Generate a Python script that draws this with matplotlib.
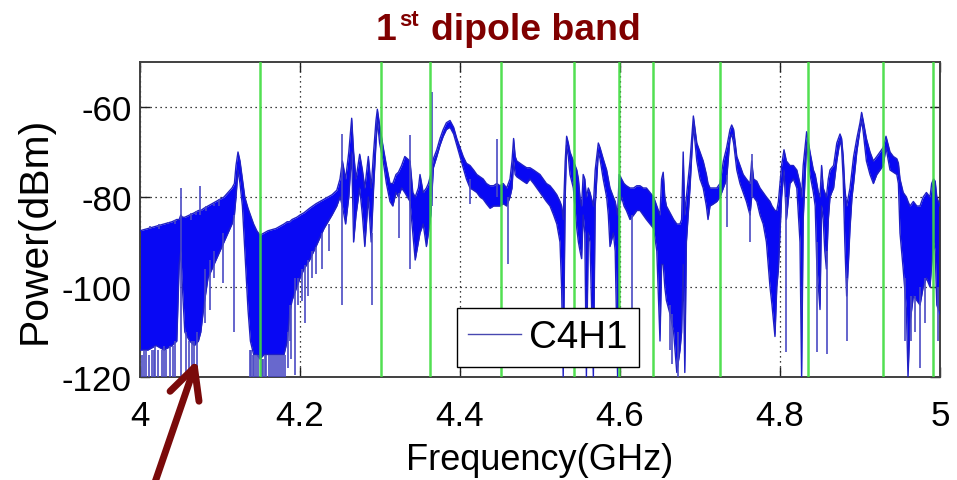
import matplotlib
matplotlib.use("Agg")
import matplotlib.pyplot as plt
from matplotlib.lines import Line2D
from matplotlib import font_manager as fm

# ---------------- data ----------------
freq = [4.000, 4.010, 4.020, 4.030, 4.040, 4.046, 4.049, 4.051, 4.053, 4.056,
        4.062, 4.068, 4.073, 4.076, 4.080, 4.085, 4.090, 4.095, 4.100, 4.105,
        4.110, 4.115, 4.118, 4.120, 4.1225, 4.125, 4.128, 4.131, 4.135, 4.138,
        4.142, 4.146, 4.150, 4.155, 4.160, 4.170, 4.180, 4.184, 4.187, 4.190,
        4.196, 4.200, 4.205, 4.212, 4.220, 4.225, 4.230, 4.240, 4.246, 4.250,
        4.253, 4.257, 4.261, 4.2646, 4.267, 4.270, 4.2746, 4.278, 4.281, 4.2854,
        4.289, 4.292, 4.295, 4.2967, 4.2995, 4.304, 4.308, 4.3125, 4.316, 4.320,
        4.323, 4.327, 4.331, 4.3375, 4.341, 4.344, 4.348, 4.350, 4.354, 4.358,
        4.3605, 4.3635, 4.3667, 4.371, 4.375, 4.379, 4.383, 4.3875, 4.392, 4.396,
        4.400, 4.404, 4.408, 4.4125, 4.417, 4.421, 4.425, 4.429, 4.433, 4.4375,
        4.442, 4.446, 4.450, 4.454, 4.4583, 4.4625, 4.465, 4.467, 4.469, 4.471,
        4.475, 4.479, 4.4833, 4.4875, 4.492, 4.496, 4.500, 4.504, 4.508, 4.5125,
        4.517, 4.521, 4.525, 4.527, 4.529, 4.5315, 4.5333, 4.5354, 4.5375, 4.5417,
        4.546, 4.548, 4.550, 4.552, 4.554, 4.556, 4.558, 4.5604, 4.5625, 4.5667,
        4.569, 4.5729, 4.575, 4.579, 4.5833, 4.5854, 4.5875, 4.5917, 4.594, 4.597,
        4.599, 4.602, 4.605, 4.608, 4.6125, 4.617, 4.621, 4.625, 4.629, 4.633,
        4.6375, 4.642, 4.646, 4.650, 4.652, 4.654, 4.656, 4.658, 4.6625, 4.667,
        4.671, 4.675, 4.677, 4.679, 4.681, 4.683, 4.6875, 4.6917, 4.696, 4.700,
        4.704, 4.708, 4.710, 4.7125, 4.717, 4.721, 4.725, 4.7292, 4.7333, 4.7375,
        4.7396, 4.742, 4.746, 4.750, 4.754, 4.758, 4.7625, 4.7646, 4.767, 4.771,
        4.775, 4.779, 4.783, 4.7875, 4.790, 4.7937, 4.796, 4.798, 4.802, 4.805,
        4.808, 4.8125, 4.8167, 4.821, 4.825, 4.827, 4.829, 4.8333, 4.8375, 4.8417,
        4.844, 4.846, 4.848, 4.850, 4.852, 4.854, 4.856, 4.858, 4.8604, 4.8625,
        4.8646, 4.867, 4.871, 4.875, 4.877, 4.879, 4.881, 4.8833, 4.8854, 4.8875,
        4.890, 4.892, 4.896, 4.900, 4.902, 4.904, 4.908, 4.9125, 4.9167, 4.921,
        4.925, 4.929, 4.9325, 4.9375, 4.9417, 4.946, 4.948, 4.950, 4.954, 4.958,
        4.960, 4.9625, 4.9667, 4.971, 4.975, 4.979, 4.983, 4.9875, 4.9896, 4.992,
        4.994, 4.996, 5.000]

power_upper = [-87.5, -87, -86.5, -86, -85.5, -85, -85, -84, -84.5, -84.5,
        -84, -83.5, -83, -83, -82.5, -82, -81.5, -81, -80.5, -80,
        -79, -78, -77, -73, -70, -72, -76, -80, -82.5, -84,
        -86, -87.5, -88.5, -88, -87.5, -87, -86, -85.5, -85.5, -85,
        -84.5, -84, -83.5, -82.5, -81.5, -81, -80.5, -79.5, -78.5, -76,
        -72, -76, -70, -62.5, -70, -76, -70.5, -74, -78, -71,
        -78, -70, -63, -60.5, -64, -69, -73, -77, -77, -75,
        -74.5, -73, -71, -72, -79, -80, -78, -75, -79, -78,
        -77, -75, -71.5, -69.5, -67, -65, -63.5, -63, -64.5, -67,
        -69, -71, -72.5, -73, -74, -75, -75.5, -76, -77, -77.5,
        -77.5, -77, -77.5, -77, -78, -76, -72, -67, -71, -72,
        -72.5, -73, -73.5, -73.5, -74, -74.5, -75, -76, -77, -77.5,
        -78.5, -79.5, -81, -82, -85, -72, -66.5, -68, -70, -72,
        -74, -76, -80, -82, -75, -76, -80, -78, -79, -82,
        -74, -68, -69, -71.5, -74, -76, -78, -80, -81, -84,
        -75, -76, -77, -77.5, -78, -78, -77.5, -77.5, -78, -78,
        -79, -80, -82, -84, -76, -74.5, -80, -82, -83.5, -85,
        -86, -86, -85, -70, -84, -80, -72, -62, -68, -70,
        -72, -75, -77, -78, -78, -78, -77, -72, -69, -65,
        -64, -65, -71, -73, -75, -76, -77, -72, -76, -76.5,
        -78, -79, -80, -81, -82, -83, -83, -81, -73, -69.5,
        -72, -73, -73, -74, -77, -80, -73, -65.5, -70, -74,
        -75, -77, -79, -80, -73, -78, -79, -80, -76, -74,
        -73.5, -73, -68, -66, -67, -71, -78, -82, -80, -78,
        -74, -71, -67, -63.5, -61.2, -63, -67, -70, -72, -71,
        -70, -69, -66.5, -70, -71, -71.5, -72.5, -76, -79, -80,
        -81, -82, -81, -82, -82, -80, -79, -80, -77, -76,
        -76.5, -80, -82]

power_lower = [-114, -114, -113, -114, -113, -112, -95, -92, -100, -110,
        -112, -113, -112, -110, -104, -98, -96, -94, -92, -90,
        -88, -86, -84, -80, -74, -77, -82, -92, -105, -112,
        -115, -115, -116, -115, -115, -115, -115, -112, -106, -103,
        -100, -98, -96, -94, -91, -89, -87, -84, -82, -80,
        -82, -86, -80, -70, -90, -84, -78, -84, -91, -80,
        -90, -78, -68, -63, -68, -72, -77, -81, -82, -79,
        -80, -78, -79, -81, -88, -94, -90, -88, -86, -91,
        -88, -84, -73.5, -71, -68.5, -66.5, -65, -64.5, -66, -68.5,
        -71, -73.5, -76, -78, -78.5, -79, -80, -80.5, -81.5, -82.5,
        -82, -82, -82, -81.5, -82, -80, -78, -72, -75, -75.5,
        -76, -76.5, -77, -76, -77, -78, -79, -80, -81, -82,
        -84, -86, -90, -100, -120, -80, -68.5, -71, -75, -78,
        -87, -90, -92, -93.7, -84, -88, -120, -88, -90, -120,
        -82, -70, -71.5, -76, -80, -84, -91, -88, -92, -120,
        -82, -80, -82, -83, -85, -84, -83, -83, -84, -85,
        -86, -87, -92, -112, -95, -95, -100, -103, -106, -110,
        -119, -114, -110, -95, -119, -90, -78, -64, -72, -76,
        -78, -82, -85, -82, -81.5, -81, -80, -78, -76, -67,
        -66, -68, -74, -77, -79, -81, -84, -80, -80, -81,
        -84, -86, -90, -100, -104, -111, -100, -96, -80, -74,
        -85, -77, -76, -78, -90, -120, -85, -68, -75, -79,
        -82, -95, -100, -105, -82, -85, -92, -96, -85, -80,
        -79, -78, -72, -67.5, -69, -76, -90, -102, -95, -87,
        -80, -77, -70, -65, -63, -65.5, -72, -75, -77, -75,
        -74, -73, -69, -74, -74.5, -75, -77, -88, -96, -105,
        -120, -108, -102, -103, -104, -100, -98, -100, -95, -90,
        -92, -104, -106]

# narrow single-sample spikes of the trace (frequency, top, bottom)
spike_freq = [4.002, 4.005, 4.008, 4.011, 4.0146, 4.017, 4.019, 4.023, 4.027, 4.030,
              4.033, 4.0375, 4.0417, 4.044, 4.0517, 4.058, 4.061, 4.065, 4.068, 4.071,
              4.013, 4.024, 4.035, 4.044, 4.064, 4.070, 4.075, 4.083, 4.092, 4.099,
              4.081, 4.0875, 4.093, 4.104, 4.118,
              4.137, 4.139, 4.141, 4.143, 4.145, 4.147, 4.152, 4.154, 4.156, 4.158,
              4.161, 4.164, 4.166, 4.169, 4.171, 4.174, 4.176, 4.179, 4.181, 4.1845,
              4.1875, 4.189, 4.1937, 4.198, 4.203, 4.206, 4.210, 4.215, 4.220, 4.228,
              4.236, 4.2521, 4.2525, 4.2896, 4.3237, 4.3375, 4.3646, 4.4125, 4.446, 4.4604,
              4.6146, 4.6625, 4.665, 4.673, 4.7333, 4.7625, 4.7646, 4.808, 4.8467, 4.859,
              4.8837, 4.956, 4.964, 4.969, 4.975, 4.981, 4.998]
spike_top = [-115, -114, -114, -115, -114, -114, -113, -114, -114, -113,
             -114, -113, -113, -112, -78, -110, -112, -112, -112, -110,
             -86.5, -86, -85.5, -85, -83.5, -83, -77.5, -82, -81.5, -80.5,
             -96, -94, -92, -88, -84,
             -114, -114, -115, -115, -115, -115, -116, -116, -115, -115,
             -115, -115, -115, -115, -115, -115, -115, -115, -115, -110,
             -104, -104, -98, -98, -96, -95, -94, -92, -91, -88,
             -86, -66, -80, -88, -79, -66.3, -56.7, -76, -67, -80,
             -84, -104, -106, -110, -75, -83, -70.4, -80, -90, -92,
             -98, -98, -102, -102, -100, -98, -100]
spike_bottom = [-120, -120, -120, -120, -120, -120, -120, -120, -120, -120,
                -120, -120, -120, -120, -120, -120, -120, -120, -120, -120,
                -87, -87, -86, -86, -85, -84, -84, -83, -82, -82,
                -108, -105, -98, -99, -110,
                -120, -120, -120, -120, -120, -120, -120, -120, -120, -120,
                -120, -120, -120, -120, -120, -120, -120, -120, -120, -118,
                -112, -116, -119.6, -104, -103, -108, -102, -98, -97, -96,
                -92, -80, -104, -104, -89, -96, -82, -81.5, -80, -94.8,
                -104.8, -114, -117, -120, -86.7, -90, -80, -114.4, -114.4, -114.8,
                -112, -112, -112, -110, -118, -108, -112]

# green markers (GHz)
marker_freq = [4.150, 4.301, 4.363, 4.451, 4.5425, 4.599, 4.641, 4.725, 4.835, 4.929, 4.991]

x_ticks = [4.0, 4.2, 4.4, 4.6, 4.8, 5.0]
x_tick_labels = ["4", "4.2", "4.4", "4.6", "4.8", "5"]
y_ticks = [-120, -100, -80, -60]
y_tick_labels = ["-120", "-100", "-80", "-60"]
series_name = "C4H1"

# ---------------- fonts ----------------
names = {f.name for f in fm.fontManager.ttflist}
if "Liberation Sans Narrow" in names:
    FONT, K = "Liberation Sans Narrow", 1.0
else:
    FONT, K = "Liberation Sans", 0.84
plt.rcParams["font.family"] = [FONT, "DejaVu Sans"]

W, H = 957, 481
fig = plt.figure(figsize=(W / 100, H / 100), dpi=100)
fig.patch.set_facecolor("white")
ax = fig.add_axes([140 / W, 1 - 378 / H, 800 / W, 315 / H])

BLUE = "#0808f4"
EDGE = "#2020c4"
SPIKE = "#4a4ac4"

ax.fill_between(freq, power_lower, power_upper, color=BLUE, linewidth=0, zorder=2)
ax.plot(freq, power_upper, color=EDGE, lw=1.0, zorder=3)
ax.plot(freq, power_lower, color=EDGE, lw=1.0, zorder=3)
ax.vlines(spike_freq, spike_bottom, spike_top, color=SPIKE, lw=1.2, zorder=3)

for f in marker_freq:
    ax.axvline(f, color="#3fdc3f", lw=1.8, alpha=0.9, zorder=4)

ax.set_xlim(4.0, 5.0)
ax.set_ylim(-120, -50)
ax.set_xticks(x_ticks)
ax.set_xticklabels(x_tick_labels)
ax.set_yticks(y_ticks)
ax.set_yticklabels(y_tick_labels)
ax.grid(True, color="k", linestyle=(0, (1, 3)), linewidth=0.9, zorder=1)
ax.set_axisbelow(True)

for s in ax.spines.values():
    s.set_color("#404040")
    s.set_linewidth(1.4)
ax.tick_params(direction="in", length=7, width=1.0, top=True, right=True,
               colors="#202020", labelcolor="black", labelsize=30 * K)
ax.tick_params(axis="x", pad=16)
ax.tick_params(axis="y", pad=6)

ax.set_xlabel("Frequency(GHz)", fontsize=31 * K, labelpad=7)
ax.set_ylabel("Power(dBm)", fontsize=35 * K, labelpad=6)
ax.yaxis.set_label_coords(-0.108, 0.47)

proxy = Line2D([0], [0], color="#4848b0", lw=1.0)
leg = ax.legend([proxy], [series_name], loc="lower left", bbox_to_anchor=(0.396, 0.032),
                borderaxespad=0, fancybox=False, edgecolor="black", framealpha=1,
                fontsize=33 * K, handlelength=1.38, handletextpad=0.2, borderpad=0.3)
leg.get_frame().set_linewidth(1.0)
leg.set_zorder(10)

# title "1st dipole band"
TITLE_C = "#800000"
def fx(x):
    return x / W
def fy(y):
    return 1 - y / H
fig.text(fx(396), fy(40), "1", ha="right", va="baseline", color=TITLE_C,
         fontsize=32 * K, fontweight="bold")
fig.text(fx(399), fy(26), "st", ha="left", va="baseline", color=TITLE_C,
         fontsize=19 * K, fontweight="bold")
fig.text(fx(431), fy(40), "dipole band", ha="left", va="baseline", color=TITLE_C,
         fontsize=32 * K, fontweight="bold")

# dark red arrow pointing at the low-frequency noise
ax.annotate("", xy=(197, H - 361), xycoords="figure pixels",
            xytext=(152, H - 492), textcoords="figure pixels",
            arrowprops=dict(arrowstyle="->,head_length=1.0,head_width=0.5",
                            color="#7a0a0a", lw=5, mutation_scale=22,
                            shrinkA=0, shrinkB=0),
            annotation_clip=False, zorder=20)

fig.savefig("out.png", dpi=100, facecolor="white")
